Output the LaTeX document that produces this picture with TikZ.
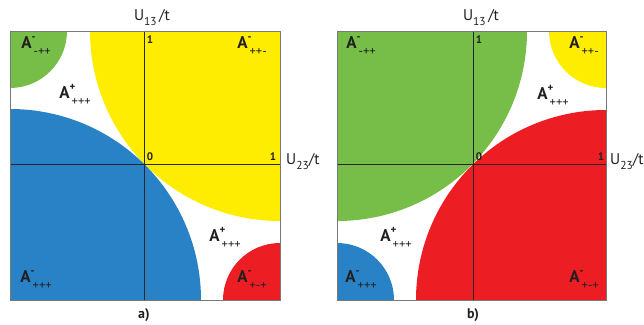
\documentclass[tikz,border=0pt]{standalone}
\usepackage{fontspec}
\setmainfont{PT Sans}
\definecolor{cgreen}{RGB}{118,190,72}
\definecolor{cyellow}{RGB}{255,237,0}
\definecolor{cblue}{RGB}{41,130,198}
\definecolor{cred}{RGB}{237,29,36}
\definecolor{cframe}{RGB}{120,120,120}
\definecolor{ctext}{RGB}{35,31,32}
\newcommand\Alab[2]{\textbf{A}\makebox[0pt][l]{\raisebox{0.95ex}{\fontsize{11}{11}\selectfont\bfseries #1}}\raisebox{-0.75ex}{\fontsize{12.5}{12}\selectfont\,#2}}
\tikzset{
  alab/.style={inner sep=0pt, text=ctext, font=\fontsize{17}{17}\selectfont},
  num/.style={inner sep=0pt, text=ctext, font=\fontsize{11}{11}\selectfont\bfseries},
  axlab/.style={inner sep=0pt, text=ctext, font=\fontsize{15.5}{16}\selectfont},
  panlab/.style={inner sep=0pt, text=ctext, font=\fontsize{14}{14}\selectfont\bfseries},
  frame/.style={draw=cframe, line width=0.9pt},
  axis/.style={draw=black!85, line width=0.7pt}
}
\begin{document}
\begin{tikzpicture}[x=1pt,y=-1pt]
\useasboundingbox (0,0) rectangle (644,324);
% ---------- panel a ----------
\begin{scope}
\clip (10,31) rectangle (280,300);
\fill[cyellow] (280,31) circle [radius=190pt];
\fill[cblue] (10,300) circle [radius=191pt];
\fill[cgreen] (10,31) circle [radius=57pt];
\fill[cred] (280,300) circle [radius=57pt];
\end{scope}
\coordinate (aT) at (144,31);
\coordinate (aB) at (144,300);
\coordinate (aL) at (10,164);
\coordinate (aR) at (280,164);
\draw[axis] (aT) -- (aB);
\draw[axis] (aL) -- (aR);
\draw[frame] (10,31) rectangle (280,300);
\node[num] (a1y) at (150,40) {1};
\node[num] (a0) at (150,157) {0};
\node[num] (a1x) at (273,157) {1};
\node[axlab] (aU13) at (152,18) {U\raisebox{-0.65ex}{\fontsize{11.5}{12}\selectfont 13}\,/t};
\node[axlab, anchor=west] (aU23) at (286,162) {U\raisebox{-0.65ex}{\fontsize{11.5}{12}\selectfont 23}/t};
\node[alab] (a1) at (36,46) {\Alab{-}{-++}};
\node[alab] (a2) at (75,95) {\Alab{+}{+++}};
\node[alab] (a3) at (252,46) {\Alab{-}{++-}};
\node[alab] (a4) at (225,238) {\Alab{+}{+++}};
\node[alab] (a5) at (36,280) {\Alab{-}{+++}};
\node[alab] (a6) at (252,280) {\Alab{-}{+-+}};
\node[panlab] (pa) at (144,315) {a)};
% ---------- panel b ----------
\begin{scope}
\clip (337,31) rectangle (606,300);
\fill[cgreen] (337,31) circle [radius=190pt];
\fill[cred] (606,300) circle [radius=190pt];
\fill[cyellow] (606,31) circle [radius=57pt];
\fill[cblue] (337,300) circle [radius=57pt];
\end{scope}
\coordinate (bT) at (473,31);
\coordinate (bB) at (473,300);
\coordinate (bL) at (337,164);
\coordinate (bR) at (606,164);
\draw[axis] (bT) -- (bB);
\draw[axis] (bL) -- (bR);
\draw[frame] (337,31) rectangle (606,300);
\node[num] (b1y) at (479,40) {1};
\node[num] (b0) at (479,157) {0};
\node[num] (b1x) at (601,157) {1};
\node[axlab] (bU13) at (481,18) {U\raisebox{-0.65ex}{\fontsize{11.5}{12}\selectfont 13}\,/t};
\node[axlab, anchor=west] (bU23) at (610,162) {U\raisebox{-0.65ex}{\fontsize{11.5}{12}\selectfont 23}/t};
\node[alab] (b1) at (361,46) {\Alab{-}{-++}};
\node[alab] (b2) at (553,96) {\Alab{+}{+++}};
\node[alab] (b3) at (584,46) {\Alab{-}{++-}};
\node[alab] (b4) at (396,238) {\Alab{+}{+++}};
\node[alab] (b5) at (361,280) {\Alab{-}{+++}};
\node[alab] (b6) at (584,280) {\Alab{-}{+-+}};
\node[panlab] (pb) at (473,315) {b)};
\end{tikzpicture}
\end{document}
